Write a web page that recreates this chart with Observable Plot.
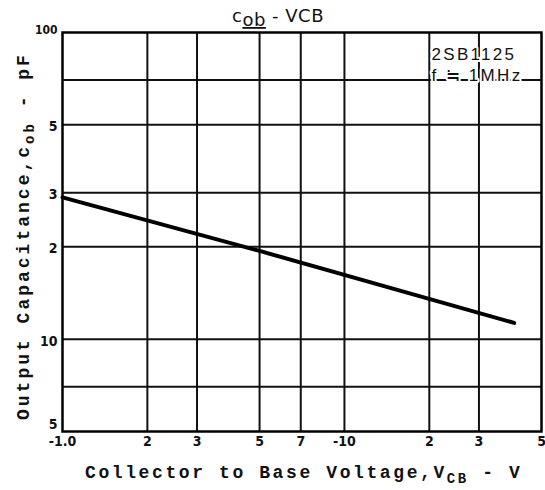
<!DOCTYPE html>
<html><head><meta charset="utf-8">
<script src="https://cdn.jsdelivr.net/npm/d3@7"></script>
<script src="https://cdn.jsdelivr.net/npm/@observablehq/plot@0.6"></script>
<style>body{margin:0;background:#fff} #chart{width:545px;height:490px}</style>
</head><body><div id="chart"></div>
<script>
// Data (log-log, Cob vs VCB)
const vcb = [1, 5, 40];
const cob = [29, 19.4, 11.3];
const xTicks = [1, 2, 3, 5, 7, 10, 20, 30, 50];
const xTickLabels = ["-1.0", "2", "3", "5", "7", "-10", "2", "3", "5"];
const yTicks = [5, 7, 10, 20, 30, 50, 70, 100];
const yTickLabels = ["5", "7", "10", "2", "3", "5", "7", "100"];
const xGrid = [2, 3, 5, 7, 10, 20, 30];
const yGrid = [7, 10, 20, 30, 50, 70];
const legendLines = ["2SB1125", "f ≒ 1MHz"];

const data = vcb.map((v, i) => ({v, c: cob[i]}));
const xFmt = d => xTickLabels[xTicks.indexOf(d)] ?? "";
const yFmt = d => yTickLabels[yTicks.indexOf(d)] ?? "";
const tickFont = "'DejaVu Sans Condensed', 'DejaVu Sans', sans-serif";
const yInner = yTicks.slice(1, -1);
const axisOpts = {tickSize: 0, tickPadding: 5, fontSize: 14, fontWeight: "bold", fontFamily: tickFont, label: null};

const chart = Plot.plot({
  width: 545, height: 490,
  marginLeft: 62, marginRight: 4, marginTop: 32, marginBottom: 59,
  style: {background: "#fff", color: "#111"},
  x: {type: "log", domain: [1, 50]},
  y: {type: "log", domain: [5, 100]},
  marks: [
    Plot.ruleX(xGrid, {stroke: "#111", strokeWidth: 2}),
    Plot.ruleY(yGrid, {stroke: "#111", strokeWidth: 2}),
    Plot.line(data, {x: "v", y: "c", stroke: "#000", strokeWidth: 4}),
    Plot.text([legendLines.join("\n")], {
      text: d => d, frameAnchor: "top-right", dx: -110, dy: 12,
      textAnchor: "start", lineAnchor: "top", lineHeight: 1.25,
      fontSize: 17, fontFamily: "'Liberation Sans', sans-serif", fill: "#111",
      stroke: "#fff", strokeWidth: 4
    }),
    Plot.frame({stroke: "#000", strokeWidth: 2.5}),
    Plot.axisX({ticks: xTicks, tickFormat: xFmt, ...axisOpts}),
    Plot.axisY({ticks: yInner, tickFormat: yFmt, ...axisOpts, dy: 2}),
    Plot.axisY({ticks: [yTicks[0]], tickFormat: yFmt, ...axisOpts, dy: -7}),
    Plot.axisY({ticks: [yTicks[yTicks.length - 1]], tickFormat: yFmt, ...axisOpts, fontSize: 12, dy: -2})
  ]
});
document.getElementById("chart").appendChild(chart);

const svg = d3.select(chart);
svg.selectAll("text").filter(function(){return this.closest("[aria-label='text']");})
  .style("letter-spacing", "2.3px");

// Title
const t = svg.append("text").attr("x", 232).attr("y", 22).attr("text-anchor", "start")
  .attr("font-family", "'DejaVu Sans', sans-serif").attr("font-size", 18).attr("fill", "#111")
  .style("letter-spacing", "0.5px");
t.append("tspan").text("c");
t.append("tspan").attr("dy", 4).attr("text-decoration", "underline").text("ob");
t.append("tspan").attr("dy", -4).text(" - VCB");

// X axis label
const xl = svg.append("text").attr("x", 85).attr("y", 478).attr("text-anchor", "start")
  .attr("font-family", "'Liberation Mono', 'DejaVu Sans Mono', monospace")
  .attr("font-weight", "bold").attr("font-size", 18).attr("fill", "#111")
  .style("letter-spacing", "2.6px");
xl.append("tspan").text("Collector to Base Voltage,V");
xl.append("tspan").attr("dy", 5).attr("font-size", 14).text("CB");
xl.append("tspan").attr("dy", -5).text(" - V");

// Y axis label
const yl = svg.append("text").attr("transform", "translate(29,420) rotate(-90)").attr("text-anchor", "start")
  .attr("font-family", "'Liberation Mono', 'DejaVu Sans Mono', monospace")
  .attr("font-weight", "bold").attr("font-size", 18).attr("fill", "#111")
  .style("letter-spacing", "3px");
yl.append("tspan").text("Output Capacitance,c");
yl.append("tspan").attr("dy", 5).attr("font-size", 14).text("ob");
yl.append("tspan").attr("dy", -5).text(" - pF");
</script>
</body></html>
